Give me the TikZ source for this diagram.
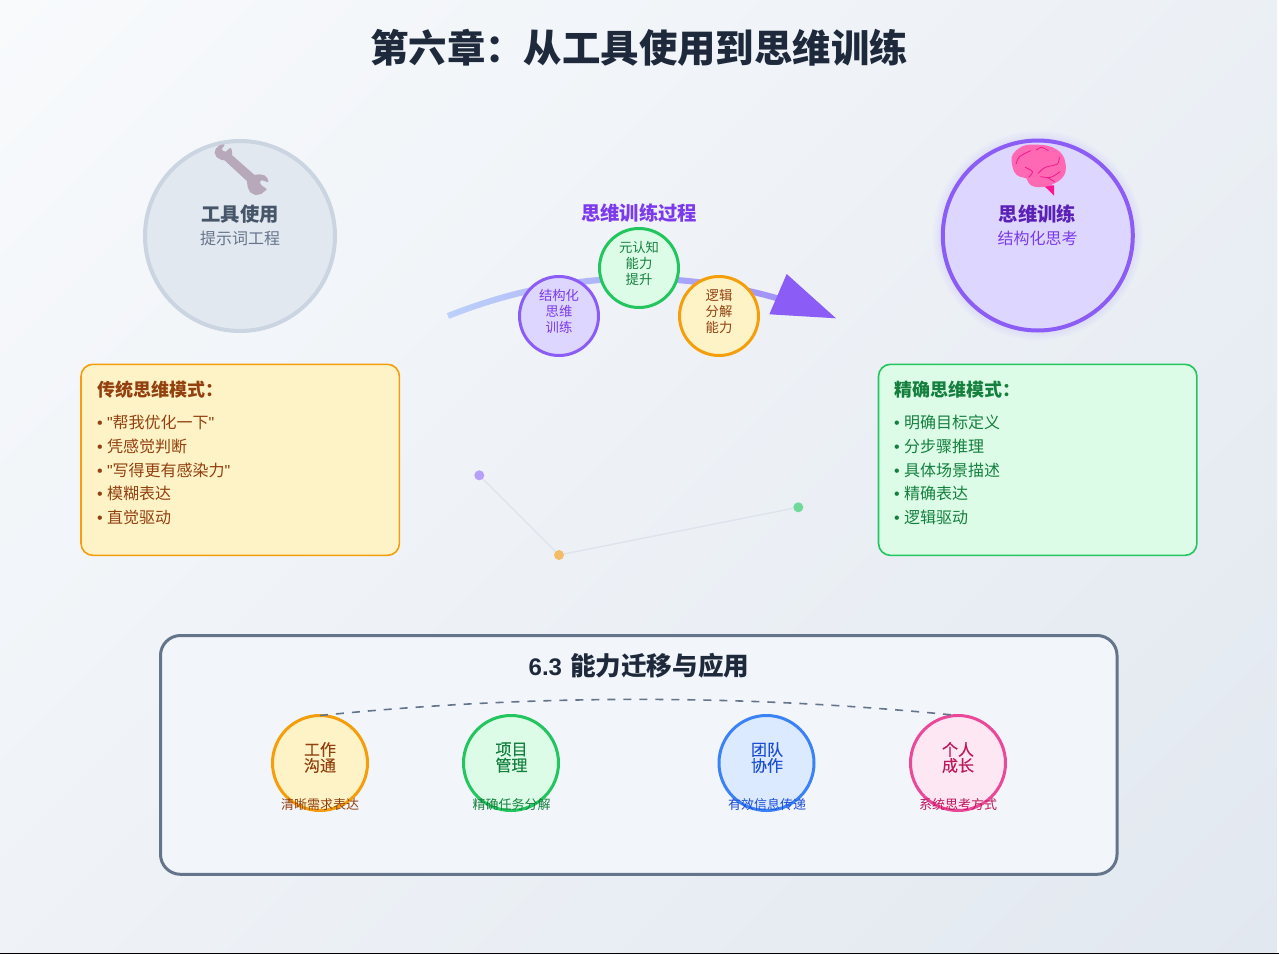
\documentclass[tikz,border=0pt]{standalone}
\usepackage{fontspec}
\setmainfont{Noto Sans CJK SC}
\newfontfamily\latinf{Liberation Sans}
\newfontfamily\medf[FakeBold=0.35]{Noto Sans CJK SC}
\definecolor{bgA}{HTML}{F8FAFC}
\definecolor{bgB}{HTML}{E2E8F0}
\definecolor{slateD}{HTML}{1E293B}
\definecolor{slateM}{HTML}{475569}
\definecolor{slateL}{HTML}{64748B}
\definecolor{slateB}{HTML}{CBD5E1}
\definecolor{slateF}{HTML}{E2E8F0}
\definecolor{violet}{HTML}{8B5CF6}
\definecolor{violetF}{HTML}{DDD6FE}
\definecolor{violetD}{HTML}{5B21B6}
\definecolor{violetT}{HTML}{7C3AED}
\definecolor{amber}{HTML}{F59E0B}
\definecolor{amberF}{HTML}{FEF3C7}
\definecolor{amberD}{HTML}{92400E}
\definecolor{green}{HTML}{22C55E}
\definecolor{greenF}{HTML}{DCFCE7}
\definecolor{greenD}{HTML}{15803D}
\definecolor{blue}{HTML}{3B82F6}
\definecolor{blueF}{HTML}{DBEAFE}
\definecolor{blueD}{HTML}{1D4ED8}
\definecolor{pink}{HTML}{EC4899}
\definecolor{pinkF}{HTML}{FCE7F3}
\definecolor{pinkD}{HTML}{BE185D}
\definecolor{wrenchC}{HTML}{B7A9BA}
\definecolor{brainC}{HTML}{FF69B4}
\definecolor{brainD}{HTML}{FF1493}
\definecolor{brainL}{HTML}{F0188C}
\definecolor{ribA}{HTML}{BCD0FA}
\definecolor{ribB}{HTML}{A08FFA}
\definecolor{secF}{HTML}{F2F5FA}
\definecolor{dotV}{HTML}{B79FFA}
\definecolor{dotA}{HTML}{F3BC66}
\definecolor{dotG}{HTML}{6FD99A}
\definecolor{linkC}{HTML}{DDE2EC}
\tikzset{
  x=0.75pt,y=-0.75pt,
  every node/.style={inner sep=0pt,outer sep=0pt},
  bigcirc/.style={circle,minimum size=142.5pt,line width=3pt},
  ttxt/.style={font=\fontsize{14.5}{18}\selectfont\bfseries},
  stxt/.style={font=\fontsize{12}{15}\selectfont},
  procnode/.style={circle,minimum size=59.25pt,line width=2.25pt},
  proctxt/.style={align=center,font=\fontsize{10}{12}\selectfont},
  appnode/.style={circle,minimum size=71.25pt,line width=2.25pt},
  apptxt/.style={align=center,font=\medf\fontsize{12}{12}\selectfont},
  appcap/.style={font=\fontsize{9.75}{11}\selectfont},
  boxhead/.style={font=\fontsize{13.5}{16}\selectfont\bfseries,anchor=west},
  boxitem/.style={font=\fontsize{12}{15}\selectfont,anchor=west},
  modebox/.style={rounded corners=9pt,line width=1.2pt,anchor=north west,minimum width=238.8pt,minimum height=143.3pt},
  dotn/.style={circle,minimum size=7.5pt,draw=none},
  thinlink/.style={draw=linkC,line width=1pt},
  crease/.style={draw=brainL,line width=0.6pt,line cap=round}
}
\begin{document}
\begin{tikzpicture}
\useasboundingbox (0,0) rectangle (1279,954);
\fill[white] (0,0) rectangle (1279,954);
\begin{scope}
\clip (0,0) rectangle (1277,952);
\begin{scope}[transform canvas={rotate around={-45:(638.5,476)}}]
\shade[left color=bgA,right color=bgB] (-149.5,-312) rectangle (1426.5,1264);
\end{scope}
\end{scope}
\fill[black] (0,953) rectangle (1279,954);
% title
\node[font=\fontsize{28.8}{34}\selectfont\bfseries,text=slateD] (title) at (639,47.8) {第六章：从工具使用到思维训练};
% left circle
\node[bigcirc,draw=slateB,fill=slateF] (toolc) at (240,236) {};
\begin{scope}[shift={(207.3,140)},x=0.275pt,y=-0.25pt]
\filldraw[fill=wrenchC,draw=wrenchC,line width=1.1pt,line join=round] (45,15) -- (34,18) -- (25,27) -- (22,38) -- (27,50) -- (38,57) -- (48,59) -- (110,122) -- (112,140) -- (118,155) -- (132,163) -- (146,160) -- (160,148) -- (147,138) -- (140,126) -- (148,118) -- (165,124) -- (162,116) -- (155,108) -- (142,105) -- (128,107) -- (66,47) -- (66,35) -- (63,26) -- (50,38) -- (40,33) -- (38,25) -- cycle;
\end{scope}
\node[ttxt,text=slateM] (toolt) at (240,214) {工具使用};
\node[stxt,text=slateL] (tools) at (240,238) {提示词工程};
% right circle with glow
\foreach \r in {97,99,101,103,105}
  \fill[violet,opacity=0.025] (1037.8,235.5) circle[radius=\r*0.75pt];
\node[bigcirc,draw=violet,fill=violetF] (thinkc) at (1037.8,235.5) {};
\begin{scope}[shift={(1005,140)},x=0.275pt,y=-0.25pt]
\fill[brainD] (105,136) -- (134,136) -- (134,167) -- cycle;
\fill[brainC] plot[smooth cycle,tension=0.7] coordinates {(18,62) (22,42) (38,25) (58,15) (85,14) (115,17) (140,28) (157,45) (165,70) (165,95) (155,115) (135,130) (110,140) (80,140) (65,130) (58,115) (40,110) (25,95)};
\draw[crease] plot[smooth] coordinates {(30,72) (38,52) (58,38) (70,32)};
\draw[crease] plot[smooth] coordinates {(55,82) (75,95) (65,112)};
\draw[crease] plot[smooth] coordinates {(85,30) (100,22) (118,32)};
\draw[crease] plot[smooth] coordinates {(148,50) (143,72) (110,82) (90,100)};
\draw[crease] plot[smooth] coordinates {(97,110) (125,112) (150,95)};
\draw[crease] plot[smooth] coordinates {(115,112) (135,125)};
\end{scope}
\node[ttxt,text=violetD] (thinkt) at (1037.5,214) {思维训练};
\node[stxt,text=violetT] (thinks) at (1037.5,238) {结构化思考};
% process
\node[font=\fontsize{14.5}{17}\selectfont\bfseries,text=violetT] (proct) at (639,213.5) {思维训练过程};
\shade[left color=ribA,right color=ribB]
  (446.9,313.2) .. controls (563,267) and (679.6,263.4) .. (796.9,301)
  -- (795.1,306.8) .. controls (678.8,269.4) and (563.5,273.6) .. (449.1,318.8) -- cycle;
\fill[violet] (786.7,274) -- (836,318.3) -- (769.3,314.3) -- cycle;
\node[procnode,draw=violet,fill=violetF] (p1) at (559,316) {};
\node[procnode,draw=green,fill=greenF] (p2) at (639,268) {};
\node[procnode,draw=amber,fill=amberF] (p3) at (719,316) {};
\node[proctxt,text=violetT] (p1t) at (559,311) {结构化\\思维\\训练};
\node[proctxt,text=greenD] (p2t) at (639,263) {元认知\\能力\\提升};
\node[proctxt,text=amberD] (p3t) at (719,311) {逻辑\\分解\\能力};
% boxes
\node[modebox,draw=amber,fill=amberF] (lbox) at (81,364.3) {};
\node[boxhead,text=amberD] (lh) at (97,390) {传统思维模式：};
\node[boxitem,text=amberD] (l1) at (97,422) {{\latinf • "}帮我优化一下{\latinf "}};
\node[boxitem,text=amberD] (l2) at (97,446) {{\latinf • }凭感觉判断};
\node[boxitem,text=amberD] (l3) at (97,470) {{\latinf • "}写得更有感染力{\latinf "}};
\node[boxitem,text=amberD] (l4) at (97,493) {{\latinf • }模糊表达};
\node[boxitem,text=amberD] (l5) at (97,517) {{\latinf • }直觉驱动};
\node[modebox,draw=green,fill=greenF] (rbox) at (878.5,364.3) {};
\node[boxhead,text=greenD] (rh) at (894,390) {精确思维模式：};
\node[boxitem,text=greenD] (r1) at (894,422) {{\latinf • }明确目标定义};
\node[boxitem,text=greenD] (r2) at (894,446) {{\latinf • }分步骤推理};
\node[boxitem,text=greenD] (r3) at (894,470) {{\latinf • }具体场景描述};
\node[boxitem,text=greenD] (r4) at (894,493) {{\latinf • }精确表达};
\node[boxitem,text=greenD] (r5) at (894,517) {{\latinf • }逻辑驱动};
% small network
\node[dotn,fill=dotV] (d1) at (479.3,475.3) {};
\node[dotn,fill=dotA] (d2) at (559,555) {};
\node[dotn,fill=dotG] (d3) at (798.3,507.3) {};
\draw[thinlink] (d1) -- (d2);
\draw[thinlink] (d2) -- (d3);
% section box
\node[rounded corners=15pt,draw=slateL,line width=2.25pt,fill=secF,anchor=north west,minimum width=717.4pt,minimum height=179.1pt] (sec) at (160.5,635.5) {};
\node[font=\fontsize{19.2}{23}\selectfont\bfseries,text=slateD] (sect) at (639,665.7) {{\latinf\fontsize{18}{23}\selectfont\bfseries 6.3 }\hspace{1pt}能力迁移与应用};
\node[appnode,draw=amber,fill=amberF] (a1) at (320,763) {};
\node[appnode,draw=green,fill=greenF] (a2) at (511,763) {};
\node[appnode,draw=blue,fill=blueF] (a3) at (766.5,763) {};
\node[appnode,draw=pink,fill=pinkF] (a4) at (958,763) {};
\node[apptxt,text=amberD] (a1t) at (320,757.5) {工作\\沟通};
\node[apptxt,text=greenD] (a2t) at (511.5,757.5) {项目\\管理};
\node[apptxt,text=blueD] (a3t) at (767,757.5) {团队\\协作};
\node[apptxt,text=pinkD] (a4t) at (958,757.5) {个人\\成长};
\node[appcap,text=amberD] (c1) at (320,805) {清晰需求表达};
\node[appcap,text=greenD] (c2) at (511.5,805) {精确任务分解};
\node[appcap,text=blueD] (c3) at (767,805) {有效信息传递};
\node[appcap,text=pinkD] (c4) at (958,805) {系统思考方式};
\draw[slateL,line width=1.2pt,dash pattern=on 6pt off 6pt] (a1.north) .. controls (533,694) and (745,694) .. (a4.north);
\end{tikzpicture}
\end{document}
